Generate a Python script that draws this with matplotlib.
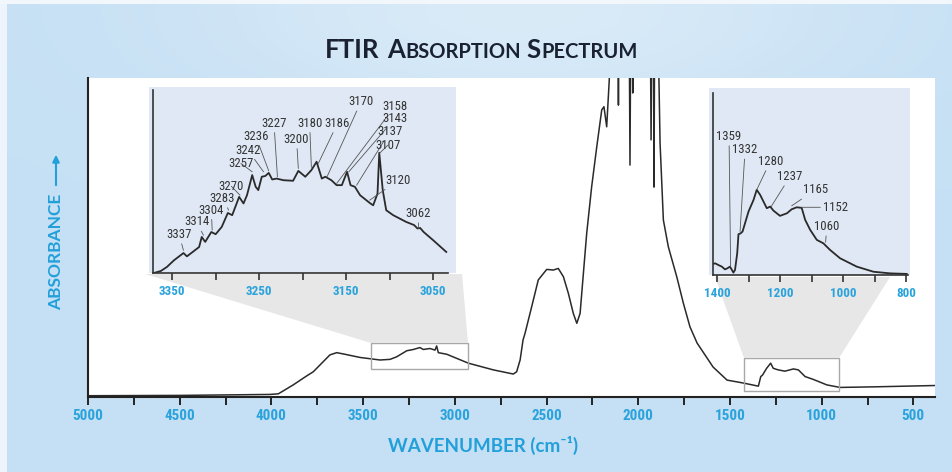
import numpy as np
import matplotlib
matplotlib.use("Agg")
import matplotlib.pyplot as plt
from matplotlib import font_manager as fm
from matplotlib.patches import Polygon, Rectangle, FancyArrowPatch
from matplotlib.font_manager import FontProperties
from matplotlib.ticker import FixedLocator

# ---------------- data ----------------
main_wn = [5000, 4500, 4008, 3962, 3881, 3808, 3772, 3717, 3681, 3644, 3608, 3517,
           3408, 3353, 3317, 3262, 3226, 3190, 3172, 3135, 3108, 3099, 3090, 3044,
           2926, 2790, 2681, 2663, 2644, 2628, 2617, 2581, 2545, 2499, 2463, 2436,
           2408, 2381, 2354, 2335, 2317, 2299, 2281, 2254, 2226, 2199, 2187, 2172,
           2158, 2140, 2112, 2108, 2104, 2050, 2045, 2040, 2033, 2030, 2026, 1935,
           1930, 1925, 1918, 1914, 1910, 1895, 1881, 1863, 1836, 1790, 1754, 1718,
           1679, 1592, 1516, 1429, 1345, 1332, 1322, 1300, 1278, 1264, 1237, 1200,
           1154, 1127, 1090, 1045, 972, 900, 700, 382]
main_abs = [0.004, 0.005, 0.008, 0.010, 0.038, 0.066, 0.079, 0.111, 0.132, 0.139, 0.135, 0.124,
            0.116, 0.118, 0.126, 0.145, 0.149, 0.155, 0.149, 0.152, 0.147, 0.160, 0.139, 0.134,
            0.106, 0.085, 0.072, 0.079, 0.116, 0.179, 0.200, 0.283, 0.367, 0.400, 0.398, 0.403,
            0.377, 0.325, 0.262, 0.231, 0.262, 0.388, 0.513, 0.659, 0.785, 0.900, 0.910, 0.847,
            0.994, 1.25, 1.25, 0.915, 1.25, 1.25, 0.727, 1.25, 1.25, 0.953, 1.25, 1.25,
            0.806, 1.25, 1.25, 0.658, 1.25, 1.25, 0.796, 0.555, 0.471, 0.377, 0.294, 0.220,
            0.169, 0.094, 0.053, 0.044, 0.034, 0.064, 0.069, 0.090, 0.106, 0.090, 0.085, 0.081,
            0.088, 0.085, 0.064, 0.055, 0.038, 0.030, 0.032, 0.036]

main_ticks = [5000, 4500, 4000, 3500, 3000, 2500, 2000, 1500, 1000, 500]
main_minor = [4750, 4250, 3750, 3250, 2750, 2250, 1750, 1250, 750]

# zoom windows marked on the main spectrum (wavenumber range, absorbance range)
box1_wn = [3457, 2928]
box1_abs = [0.088, 0.169]
box2_wn = [1423, 905]
box2_abs = [0.019, 0.122]

# inset 1 : 3370 - 3035 cm-1
ins1_wn = [3371, 3363, 3356, 3348, 3337, 3333, 3325, 3319, 3316, 3312, 3305, 3300,
           3293, 3286, 3281, 3273, 3268, 3264, 3258, 3254, 3251, 3247, 3243, 3239,
           3235, 3230, 3222, 3211, 3205, 3197, 3190, 3184, 3178, 3174, 3167, 3161,
           3155, 3149, 3145, 3140, 3134, 3123, 3119, 3114, 3112, 3108, 3104, 3096,
           3081, 3072, 3068, 3065, 3061, 3050, 3035]
ins1_abs = [0.000, 0.011, 0.033, 0.069, 0.109, 0.091, 0.120, 0.142, 0.197, 0.170, 0.224, 0.212,
            0.252, 0.328, 0.316, 0.416, 0.380, 0.425, 0.535, 0.471, 0.453, 0.526, 0.530, 0.547,
            0.511, 0.516, 0.507, 0.504, 0.558, 0.526, 0.562, 0.608, 0.516, 0.526, 0.507, 0.480,
            0.480, 0.553, 0.480, 0.471, 0.425, 0.383, 0.370, 0.434, 0.657, 0.453, 0.343, 0.316,
            0.279, 0.262, 0.243, 0.246, 0.224, 0.179, 0.115]
ins1_ticks = [3350, 3250, 3150, 3050]
ins1_minor = [3300, 3200, 3100]
ins1_peaks = ["3337", "3314", "3304", "3283", "3270", "3257", "3242", "3236", "3227",
              "3200", "3180", "3186", "3170", "3158", "3143", "3137", "3107", "3120", "3062"]

# inset 2 : 1415 - 795 cm-1
ins2_wn = [1415, 1407, 1397, 1386, 1376, 1368, 1360, 1354, 1349, 1344, 1337, 1333,
           1326, 1320, 1301, 1285, 1275, 1264, 1243, 1232, 1222, 1201, 1179, 1164,
           1148, 1132, 1121, 1105, 1084, 1063, 1042, 1010, 957, 904, 851, 798]
ins2_abs = [0.061, 0.064, 0.055, 0.046, 0.031, 0.037, 0.046, 0.028, 0.013, 0.028, 0.120, 0.224,
            0.229, 0.239, 0.349, 0.413, 0.468, 0.440, 0.367, 0.376, 0.354, 0.325, 0.339, 0.361,
            0.372, 0.369, 0.303, 0.248, 0.193, 0.174, 0.138, 0.092, 0.046, 0.018, 0.009, 0.006]
ins2_ticks = [1400, 1200, 1000, 800]
ins2_minor = [1300, 1100, 900]
ins2_peaks = ["1359", "1332", "1280", "1237", "1165", "1152", "1060"]

# ---------------- layout (label / leader placement) ----------------
ins1_text_pos = [(3342, 0.210), (3322, 0.279), (3305, 0.343), (3292, 0.407), (3282, 0.474),
                 (3271, 0.599), (3263, 0.672), (3254, 0.748), (3233, 0.818), (3207, 0.730),
                 (3192, 0.818), (3160, 0.818), (3133, 0.936), (3094, 0.912), (3094, 0.845),
                 (3100, 0.772), (3102, 0.699), (3090, 0.507), (3067, 0.325)]
ins1_leader_to = [(3337, 0.124), (3314, 0.206), (3304, 0.234), (3285, 0.343), (3272, 0.425),
                  (3258, 0.553), (3245, 0.553), (3239, 0.558), (3229, 0.526), (3205, 0.571),
                  (3190, 0.577), (3182, 0.599), (3172, 0.526), (3161, 0.489), (3147, 0.553),
                  (3138, 0.480), (3112, 0.653), (3123, 0.398), (3067, 0.243)]
ins2_text_pos = [(1363, 0.761), (1312, 0.688), (1232, 0.624), (1169, 0.541), (1089, 0.468),
                 (1024, 0.372), (1052, 0.266)]
ins2_leader_to = [(1358, 0.046), (1328, 0.239), (1275, 0.468), (1229, 0.376), (1164, 0.380),
                  (1132, 0.372), (1056, 0.180)]

W, H = 953, 472
BLUE = "#22a0da"
LBLUE = "#2aa3dc"
DARK = "#2a2a2a"

names = {f.name for f in fm.fontManager.ttflist}
NARROW = None
for fam in ["Liberation Sans Narrow", "Arial Narrow", "Roboto Condensed"]:
    if fam in names:
        NARROW = dict(family=fam)
        NSCALE = 1.15
        break
if NARROW is None:
    NARROW = dict(family="Liberation Sans")
    NSCALE = 1.0
HEAD = "Lato" if "Lato" in names else "DejaVu Sans"


def fx(px):
    return px / W


def fy(py):
    return 1 - py / H


def rect(x0, y0, x1, y1):
    return [fx(x0), fy(y1), fx(x1) - fx(x0), fy(y0) - fy(y1)]


fig = plt.figure(figsize=(W / 100, H / 100), dpi=100)
fig.patch.set_facecolor("#c6e0f4")

# ---- background gradient ----
bg = fig.add_axes([0, 0, 1, 1], zorder=-10)
bg.axis("off")
yy, xx = np.mgrid[0:H, 0:W]
xn, yn = xx / W, yy / H
base = np.array([0.775, 0.878, 0.957])
glow = np.exp(-((xn - 0.55) ** 2 / 0.12 + (yn - 0.02) ** 2 / 0.06))
img = base[None, None, :] + (1 - base[None, None, :]) * (0.35 * glow)[..., None]
img[:, :7, :] = [0.93, 0.96, 0.99]
img[:4, :, :] = [0.95, 0.97, 0.99]
bg.imshow(np.clip(img, 0, 1), aspect="auto", extent=[0, 1, 0, 1], origin="upper")
bg.set_xlim(0, 1)
bg.set_ylim(0, 1)

tick_fp = FontProperties(weight="bold", size=9.5 * NSCALE, **NARROW)
itick_fp = FontProperties(weight="bold", size=8.2 * NSCALE, **NARROW)
lab_fp = FontProperties(size=8.0 * NSCALE, **NARROW)

# ---- main axes ----
ax = fig.add_axes(rect(88, 78, 935, 397), zorder=0)
ax.set_facecolor("white")
ax.plot(main_wn, main_abs, color=DARK, lw=1.1, solid_joinstyle="round")
ax.set_xlim(5000, 382)
ax.set_ylim(0, 1)
for s in ["top", "right"]:
    ax.spines[s].set_visible(False)
for s in ["left", "bottom"]:
    ax.spines[s].set_linewidth(1.5)
    ax.spines[s].set_color("#222222")
ax.set_yticks([])
ax.xaxis.set_major_locator(FixedLocator(main_ticks))
ax.xaxis.set_minor_locator(FixedLocator(main_minor))
ax.set_xticklabels([str(t) for t in main_ticks], fontproperties=tick_fp, color=LBLUE)
ax.tick_params(axis="x", which="both", direction="out", length=6, width=1.4,
               color="#222222", pad=2.5)

for (w0, w1), (a0, a1) in [(box1_wn, box1_abs), (box2_wn, box2_abs)]:
    ax.add_patch(Rectangle((min(w0, w1), a0), abs(w1 - w0), a1 - a0, fill=False,
                           ec="#a8a8a8", lw=1.0, zorder=3))

# ---- funnels and inset backgrounds (figure level) ----
for pts in ([(145, 274), (462, 274), (468, 343), (371, 343)],
            [(715, 277), (890, 277), (839, 358), (744, 358)]):
    fig.add_artist(Polygon([(fx(x), fy(y)) for x, y in pts], closed=True,
                           transform=fig.transFigure, fc="#e7e7e7", ec="none", zorder=0.5))
for (x0, y0, x1, y1) in [(149, 87, 456, 273), (709, 88, 910, 275)]:
    fig.add_artist(Rectangle((fx(x0), fy(y1)), fx(x1) - fx(x0), fy(y0) - fy(y1),
                             transform=fig.transFigure, fc="#dfe8f4", ec="none", zorder=0.7))


def make_inset(r, wn, ab, xlim, ticks, minor, peaks, tpos, lto):
    a = fig.add_axes(r, zorder=2)
    a.set_facecolor("none")
    a.plot(wn, ab, color=DARK, lw=1.3, solid_joinstyle="round")
    a.set_xlim(*xlim)
    a.set_ylim(0, 1)
    for s in ["top", "right"]:
        a.spines[s].set_visible(False)
    for s in ["left", "bottom"]:
        a.spines[s].set_linewidth(1.2)
        a.spines[s].set_color("#333333")
    a.set_yticks([])
    a.xaxis.set_major_locator(FixedLocator(ticks))
    a.xaxis.set_minor_locator(FixedLocator(minor))
    a.set_xticklabels([str(t) for t in ticks], fontproperties=itick_fp, color=LBLUE)
    a.tick_params(axis="x", which="both", direction="out", length=5, width=1.2,
                  color="#333333", pad=3.5)
    for lab, tp, tg in zip(peaks, tpos, lto):
        a.annotate(lab, xy=tg, xytext=tp, ha="center", va="center", fontproperties=lab_fp,
                   color="#333333",
                   arrowprops=dict(arrowstyle="-", lw=0.6, color="#555555",
                                   shrinkA=0, shrinkB=0))
    return a


make_inset(rect(153, 90, 448, 273), ins1_wn, ins1_abs, (3372, 3033), ins1_ticks, ins1_minor,
           ins1_peaks, ins1_text_pos, ins1_leader_to)
make_inset(rect(713, 93, 908, 275), ins2_wn, ins2_abs, (1414, 794), ins2_ticks, ins2_minor,
           ins2_peaks, ins2_text_pos, ins2_leader_to)

# ---- texts ----
renderer = fig.canvas.get_renderer()


def width_px(t):
    return t.get_window_extent(renderer).width


# title with small caps
BIG, SMALL = 16.0, 12.5
parts = [("FTIR", BIG, 0.3), ("A", BIG, 0), ("BSORPTION", SMALL, 0.3), ("S", BIG, 0),
         ("PECTRUM", SMALL, 0)]


def build_title(scale, draw):
    objs = []
    x = 0.0
    for txt, sz, gap in parts:
        t = fig.text(0, 0, txt, fontsize=sz * scale, family=HEAD, weight="bold",
                     color="#1a2232", ha="left", va="baseline")
        w = width_px(t)
        objs.append((t, x))
        x += w + gap * sz * scale * 100 / 72
    if not draw:
        for t, _ in objs:
            t.remove()
    return objs, x


_, total = build_title(1.0, False)
scale = 312.0 / total
objs, total = build_title(scale, True)
x0 = 325
for t, off in objs:
    t.set_position((fx(x0 + off), fy(58)))

# x label
xl = fig.text(fx(483), fy(445), "WAVENUMBER (cm⁻¹)", ha="center", va="center",
              fontsize=13, family=[HEAD, "DejaVu Sans"], weight="bold", color=BLUE)
xl.set_fontsize(13 * 190.0 / width_px(xl))

# y label with arrow
yl = fig.text(fx(56), fy(251.5), "ABSORBANCE", ha="center", va="center", rotation=90,
              fontsize=13, family=HEAD, weight="bold", color=BLUE)
yl.set_fontsize(13 * 117.0 / yl.get_window_extent(renderer).height)
fig.add_artist(FancyArrowPatch((fx(56), fy(188)), (fx(56), fy(152)), transform=fig.transFigure,
                               arrowstyle="-|>", mutation_scale=10, color=BLUE, lw=1.5))

fig.savefig("out.png", dpi=100, facecolor=fig.get_facecolor())
